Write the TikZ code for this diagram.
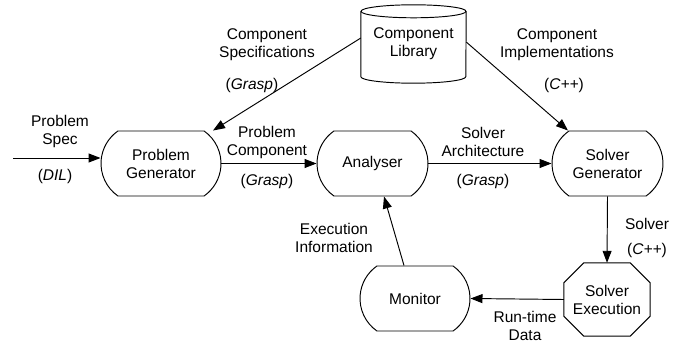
\documentclass[tikz,border=0pt]{standalone}
\usepackage{fontspec}
\setmainfont{Liberation Sans}
\usetikzlibrary{arrows.meta,shapes.misc}
\begin{document}
\begin{tikzpicture}[x=1pt,y=-1pt,
  every node/.style={font=\fontsize{15.5}{18}\selectfont, align=center},
  line/.style={line width=0.95pt},
  term/.style={draw, line, rounded rectangle, rounded rectangle arc length=110,
    minimum height=65pt, inner xsep=2pt},
  flow/.style={line, -{Triangle[length=12pt,width=9pt]}},
  lbl/.style={inner sep=0pt}
]
\useasboundingbox (0,0) rectangle (684,344);

% nodes
\node[minimum width=105pt, minimum height=52pt, inner sep=0pt] (lib) at (413.5,44) {Component\\Library};
\draw[line] ([yshift=6.5pt]lib.north west) -- ([yshift=-6.5pt]lib.south west)
  arc[start angle=180, end angle=360, x radius=52.5pt, y radius=6.5pt]
  -- ([yshift=6.5pt]lib.north east);
\draw[line] ([yshift=6.5pt]lib.north) ellipse[x radius=52.5pt, y radius=6.5pt];

\node[term, minimum width=124pt] (pg) at (161,163.5) {Problem\\Generator};
\node[term, minimum width=115pt] (an) at (372.5,163.5) {Analyser};
\node[term, minimum width=115pt] (sg) at (607.5,163.5) {Solver\\Generator};
\node[term, minimum width=114pt] (mon) at (415,298.5) {Monitor};

\node[minimum width=86pt, minimum height=73pt, inner sep=0pt] (se) at (607,299.5) {Solver\\Execution};
\draw[line] ([xshift=20pt]se.north west) -- ([xshift=-20pt]se.north east)
  -- ([yshift=-20pt]se.north east) -- ([yshift=20pt]se.south east)
  -- ([xshift=-20pt]se.south east) -- ([xshift=20pt]se.south west)
  -- ([yshift=20pt]se.south west) -- ([yshift=-20pt]se.north west) -- cycle;

\coordinate (in) at (13,158);

% connectors
\draw[flow] (in) -- ([yshift=5.5pt]pg.west);
\draw[flow] ([yshift=6pt]lib.west) -- ([xshift=52pt]pg.north);
\draw[flow] ([yshift=2pt]lib.east) -- ([xshift=-39.5pt]sg.north);
\draw[flow] (pg.east) -- (an.west);
\draw[flow] (an.east) -- (sg.west);
\draw[flow] (sg.south) -- (se.north);
\draw[flow] (se.west) -- (mon.east);
\draw[flow] ([xshift=-11pt]mon.north) -- ([xshift=11.5pt]an.south);

% labels
\node[lbl] (l1) at (60,131) {Problem\\Spec};
\node[lbl] (l2) at (55,176) {(\textit{DIL})};
\node[lbl] (l3) at (267,45) {Component\\Specifications};
\node[lbl] (l4) at (252,85) {(\textit{Grasp})};
\node[lbl] (l5) at (557,45) {Component\\Implementations};
\node[lbl] (l6) at (564,85) {(\textit{C++})};
\node[lbl] (l7) at (267,142) {Problem\\Component};
\node[lbl] (l8) at (267,181) {(\textit{Grasp})};
\node[lbl] (l9) at (483,142) {Solver\\Architecture};
\node[lbl] (l10) at (483,181) {(\textit{Grasp})};
\node[lbl] (l11) at (647,224) {Solver};
\node[lbl] (l12) at (647,250) {(\textit{C++})};
\node[lbl] (l13) at (525,325.5) {Run-time\\Data};
\node[lbl] (l14) at (334,238) {Execution\\Information};
\end{tikzpicture}
\end{document}
